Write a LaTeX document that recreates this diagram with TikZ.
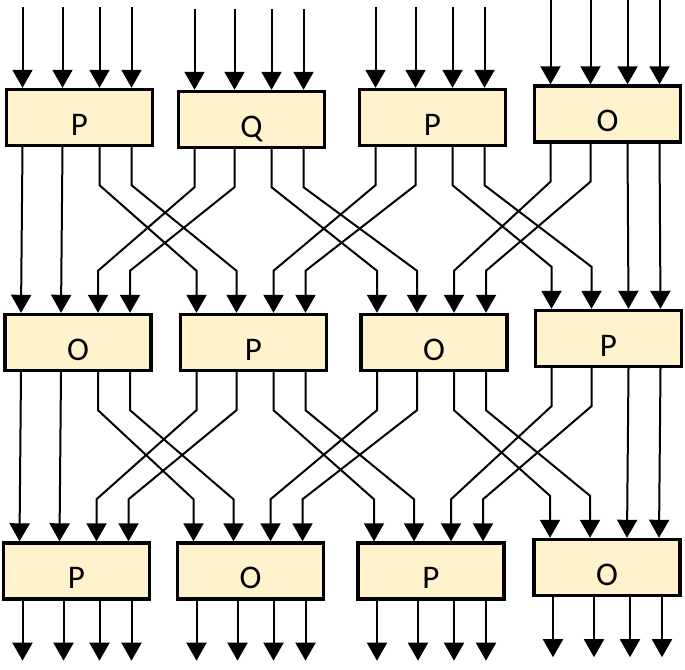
\documentclass[tikz,border=0pt]{standalone}
\usepackage{fontspec}
\setmainfont{Carlito}
\usepackage{xcolor}
\definecolor{boxfill}{RGB}{255,242,204}
\usetikzlibrary{arrows.meta, positioning, calc}
\tikzset{
  blockbox/.style={
    rectangle, draw=black, line width=3.4pt, fill=boxfill,
    minimum width=146pt, minimum height=56pt, inner sep=0pt,
    font=\fontsize{33}{35}\selectfont, text height=36pt, text depth=0pt
  },
  wire/.style={line width=2pt, -{Triangle[width=20pt, length=18pt]}},
}

\begin{document}
\begin{tikzpicture}[x=1pt, y=1pt]
  \useasboundingbox (0,0) rectangle (685,669);

  % --- Fila superior ---
  \node (b11) [blockbox] at (79.5,551.5) {P};
  \node (b12) [blockbox] at (251.5,549.5) {Q};
  \node (b13) [blockbox] at (432.5,551.5) {P};
  \node (b14) [blockbox] at (607.5,555) {O};

  % --- Fila central ---
  \node (b21) [blockbox] at (78,326.5) {O};
  \node (b22) [blockbox] at (253.5,326.5) {P};
  \node (b23) [blockbox] at (434,326.5) {O};
  \node (b24) [blockbox] at (608.5,330.5) {P};

  % --- Fila inferior ---
  \node (b31) [blockbox] at (76.5,98) {P};
  \node (b32) [blockbox] at (250.5,98) {O};
  \node (b33) [blockbox] at (431,98) {P};
  \node (b34) [blockbox] at (607,101.5) {O};

  % --- Entradas ---
  \foreach \b/\len in {b11/81, b12/81, b13/81, b14/84}
    \foreach \dx in {-57,-17,20,52}
      \draw[wire] ($(\b.north)+(\dx,\len)$) -- ++(0,-\len);

  % --- Conexiones entre filas ---
  \foreach \rowa/\rowb in {1/2, 2/3} {
    \foreach \dx in {-57,-17}
      \draw[wire] ($(b\rowa1.south)+(\dx,0)$) -- ($(b\rowb1.north)+(\dx,0)$);
    \foreach \dx in {20,52}
      \draw[wire] ($(b\rowa4.south)+(\dx,0)$) -- ($(b\rowb4.north)+(\dx,0)$);
    \foreach \lft/\rgt in {1/2, 2/3, 3/4} {
      \foreach \sx/\dx in {20/-57, 52/-17}
        \draw[wire] ($(b\rowa\lft.south)+(\sx,0)$) -- ++(0,-38)
          -- ($(b\rowb\rgt.north)+(\dx,42)$) -- ++(0,-42);
      \foreach \sx/\dx in {-57/20, -17/52}
        \draw[wire] ($(b\rowa\rgt.south)+(\sx,0)$) -- ++(0,-38)
          -- ($(b\rowb\lft.north)+(\dx,42)$) -- ++(0,-42);
    }
  }

  % --- Salidas ---
  \foreach \b in {b31, b32, b33, b34}
    \foreach \dx in {-54,-13,23,55}
      \draw[wire] ($(\b.south)+(\dx,0)$) -- ++(0,-60);

\end{tikzpicture}
\end{document}
